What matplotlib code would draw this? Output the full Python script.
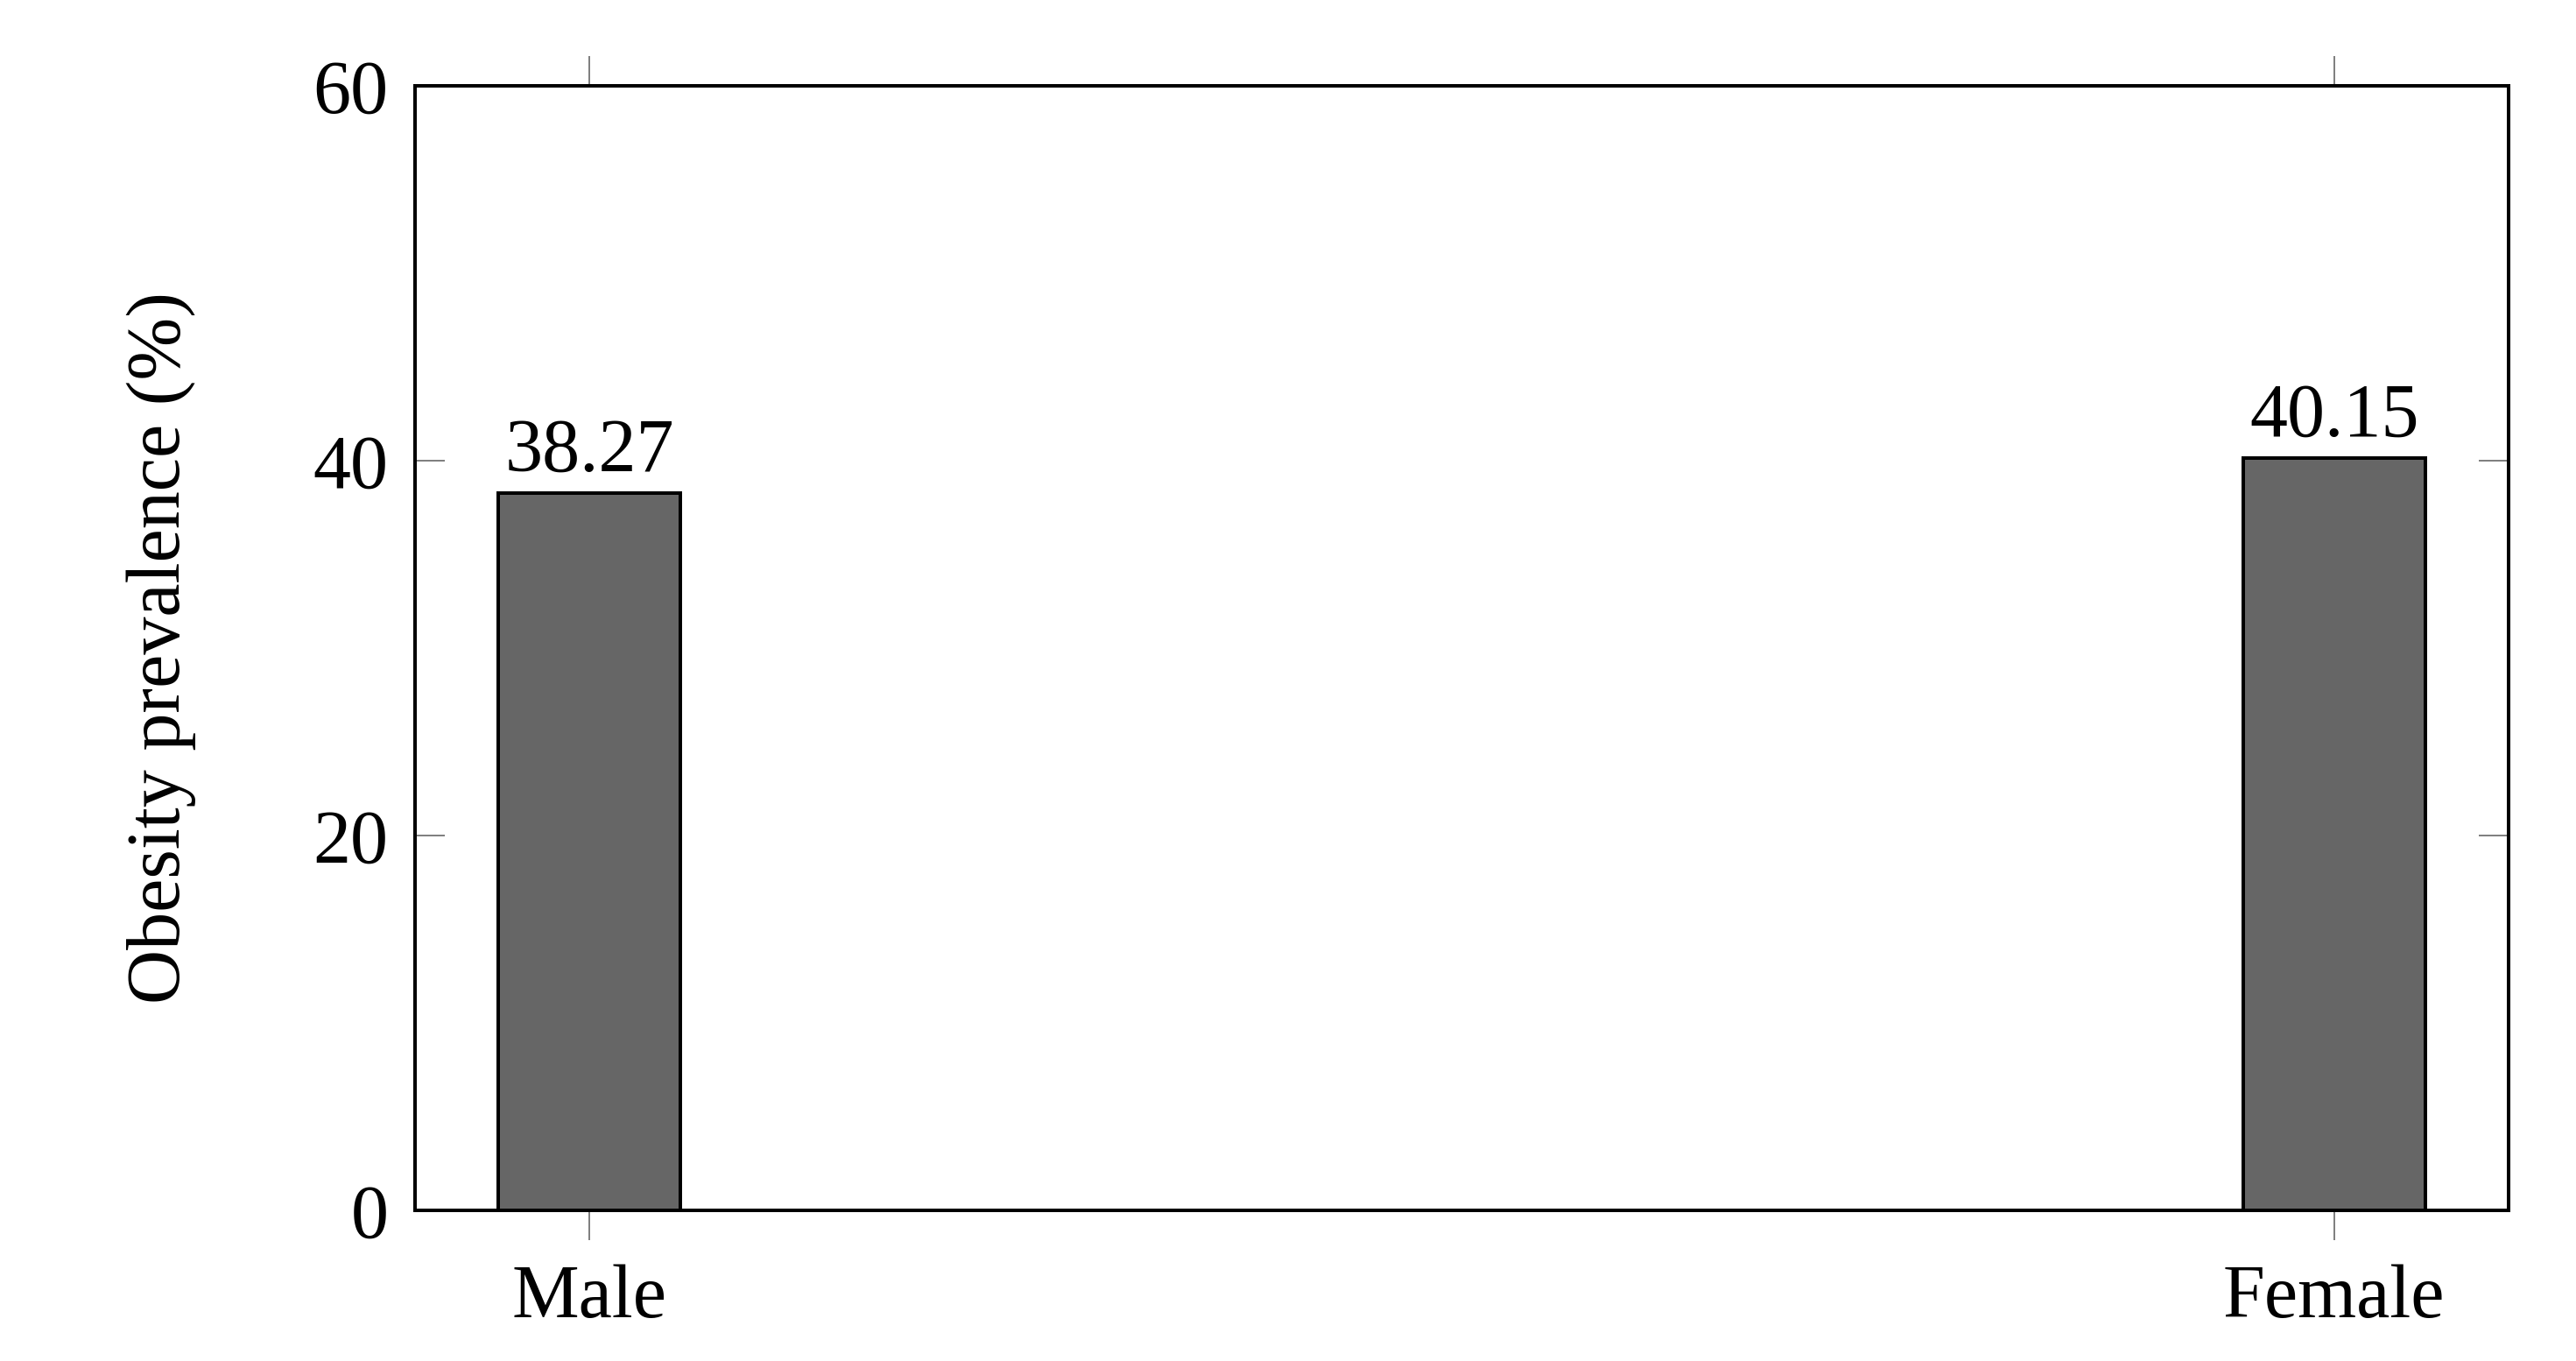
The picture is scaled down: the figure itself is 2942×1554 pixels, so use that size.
import matplotlib
matplotlib.use("Agg")
import matplotlib.pyplot as plt

categories = ["Male", "Female"]
prevalence = [38.27, 40.15]
y_ticks = [0, 20, 40, 60]

plt.rcParams["font.family"] = ["Liberation Serif", "DejaVu Serif"]
plt.rcParams["font.size"] = 31

fig = plt.figure(figsize=(14.71, 7.77), dpi=200)
ax = fig.add_axes([0.1611, 0.1107, 0.9738 - 0.1611, 0.9369 - 0.1107])

x = list(range(len(categories)))
bars = ax.bar(x, prevalence, width=0.1045, color="#666666",
              edgecolor="black", linewidth=1.44, zorder=3)

for rect, val in zip(bars, prevalence):
    ax.annotate(f"{val:.2f}", xy=(rect.get_x() + rect.get_width() / 2, val),
                xytext=(0, 9), textcoords="offset points",
                ha="center", va="baseline", fontsize=31)

ax.set_xlim(-0.1, 1.1)
ax.set_ylim(0, 60)
ax.set_xticks(x)
ax.set_xticklabels(categories)
ax.set_yticks(y_ticks)

ax.tick_params(axis="x", which="both", direction="out", top=True, bottom=True,
               length=12.2, width=0.72, color="#808080", pad=10)
ax.tick_params(axis="y", which="both", direction="in", left=True, right=True,
               length=12.2, width=0.72, color="#808080", pad=11)

for s in ax.spines.values():
    s.set_linewidth(1.44)
    s.set_zorder(4)

ax.set_ylabel("Obesity prevalence (%)", va="center")
ax.yaxis.set_label_coords(-0.121, 0.5)

fig.savefig("out.png", dpi=200)
